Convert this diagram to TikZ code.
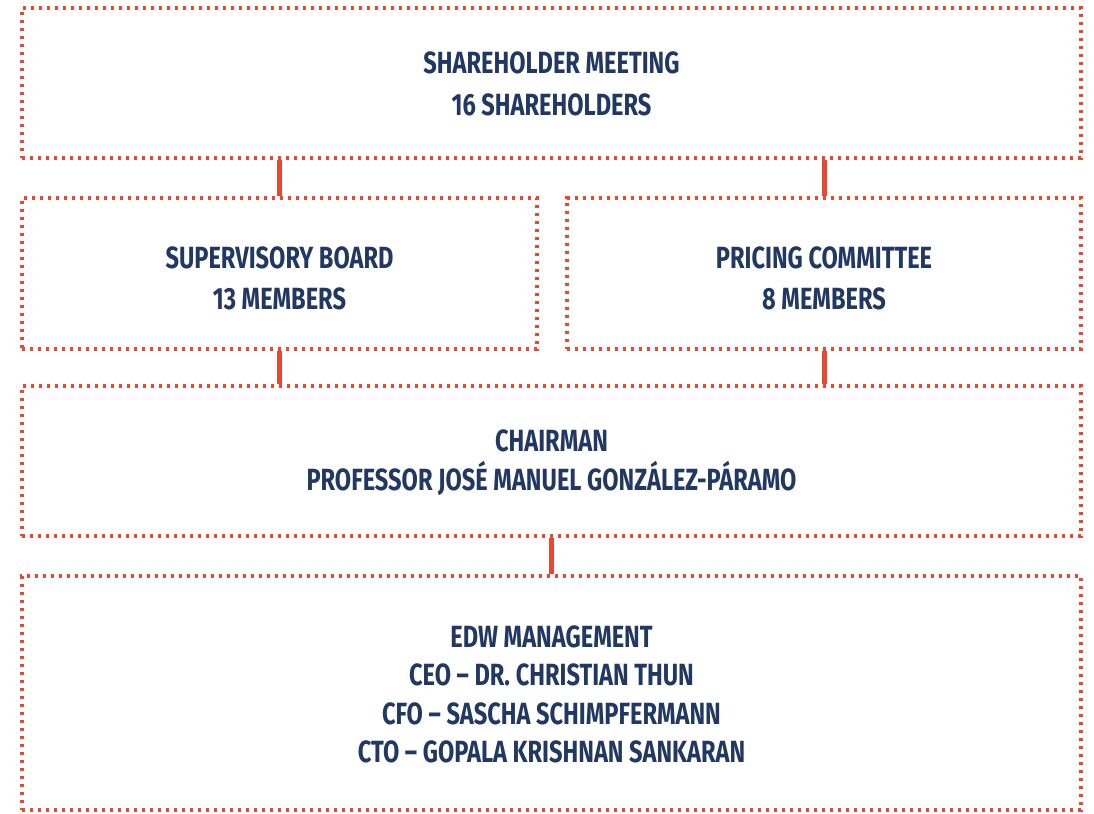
\documentclass[tikz,border=0pt]{standalone}
\usepackage{fontspec}
\setmainfont{Fira Sans}[FakeStretch=0.77]
\usepackage{tikz}

\definecolor{boxred}{HTML}{E64833}
\definecolor{textnavy}{HTML}{213863}

\tikzset{
  orgbox/.style={draw=boxred, line width=2.5pt, dash pattern=on 2.5pt off 3.5pt,
    align=center, text=textnavy, inner sep=0pt, text depth=0pt},
  linesep/.style={font=\fontsize{23}{#1}\selectfont\bfseries},
  link/.style={draw=boxred, line width=3.75pt}
}

\begin{document}
\begin{tikzpicture}[x=0.75pt, y=-0.75pt]
\useasboundingbox (0,0) rectangle (1094,813);
\node[orgbox, linesep=31.5pt, text height=48.75pt,
  minimum width=794.25pt, minimum height=112.5pt] (share) at (551.5,83)
  {SHAREHOLDER MEETING\\16 SHAREHOLDERS};
\node[orgbox, linesep=30.75pt, text height=54pt,
  minimum width=386.25pt, minimum height=113.25pt] (sup) at (279.5,273.5)
  {SUPERVISORY BOARD\\13 MEMBERS};
\node[orgbox, linesep=30.75pt, text height=54pt,
  minimum width=385.5pt, minimum height=113.25pt] (price) at (824,273.5)
  {PRICING COMMITTEE\\8 MEMBERS};
\node[orgbox, linesep=29.25pt, text height=44.25pt,
  minimum width=794.25pt, minimum height=112.5pt] (chair) at (551.5,461)
  {CHAIRMAN\\PROFESSOR JOSÉ MANUEL GONZÁLEZ-PÁRAMO};
\node[orgbox, linesep=28.75pt, text height=104.25pt,
  minimum width=794.25pt, minimum height=175.5pt] (mgmt) at (551.5,693)
  {EDW MANAGEMENT\\CEO – DR. CHRISTIAN THUN\\CFO – SASCHA SCHIMPFERMANN\\CTO – GOPALA KRISHNAN SANKARAN};
% connectors
\draw[link] (sup.north) -- (sup.north |- share.south);
\draw[link] (price.north) -- (price.north |- share.south);
\draw[link] (sup.south) -- (sup.south |- chair.north);
\draw[link] (price.south) -- (price.south |- chair.north);
\draw[link] (chair.south) -- (mgmt.north);
\end{tikzpicture}
\end{document}
